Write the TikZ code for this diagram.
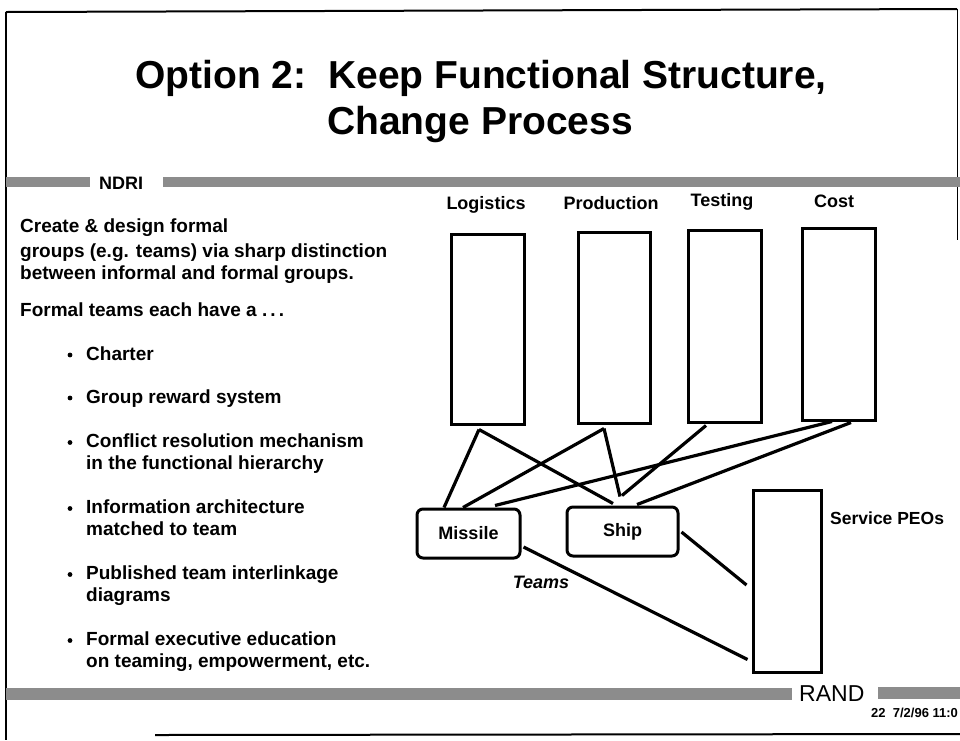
\documentclass[tikz,border=0pt]{standalone}
\usepackage{fontspec}
\setmainfont{Liberation Sans}
\begin{document}
\begin{tikzpicture}[x=1pt,y=-1pt,
  body/.style={anchor=base west, inner sep=0, font=\fontsize{19}{22}\selectfont\bfseries},
  hdr/.style={inner sep=0, font=\fontsize{18}{20}\selectfont\bfseries},
  ttl/.style={anchor=base, inner sep=0, font=\fontsize{39}{44}\selectfont\bfseries},
  fbox/.style={draw, line width=3pt, inner sep=0, minimum width=73},
  team/.style={draw, line width=3pt, rounded corners=6pt, inner sep=0, minimum height=49, font=\fontsize{18}{20}\selectfont\bfseries},
  link/.style={line width=3.2pt},
  band/.style={fill=black!45, draw=none},
  dot/.style={fill=black, draw=none}]
\useasboundingbox (0,0) rectangle (960,740);

% frame
\draw[line width=2pt] (6,12) -- (957,9);
\draw[line width=2pt] (6,12) -- (6,740);
\draw[line width=1pt] (957,9) -- (957,240);
\draw[line width=2pt] (155,735) -- (960,734);

% title
\node[ttl] (t1) at (481,88) {Option 2:\ \ Keep Functional Structure,};
\node[ttl] (t2) at (480,134) {Change Process};

% bands
\fill[band] (6,177) rectangle (90,187);
\fill[band] (163,177) rectangle (960,187);
\node[anchor=base west, inner sep=0, font=\fontsize{18}{20}\selectfont\bfseries] (ndri) at (99,189) {NDRI};
\fill[band] (6,688) rectangle (792,700);
\fill[band] (878,687) rectangle (960,699);
\node[anchor=base west, inner sep=0, font=\fontsize{23}{26}\selectfont] (rand) at (799,701) {RAND};
\node[anchor=base west, inner sep=0, font=\fontsize{13}{15}\selectfont\bfseries] (date) at (871,717) {22\ \ 7/2/96 11:0};

% left text
\node[body] (p1) at (20,232.5) {Create \& design formal};
\node[body] (p2) at (20,257.5) {groups (e.g. teams) via sharp distinction};
\node[body] (p3) at (20,279.5) {between informal and formal groups.};
\node[body] (p4) at (20,316) {Formal teams each have a .\,.\,.};
\node[body] (b1) at (86,360) {Charter};
\node[body] (b2) at (86,403) {Group reward system};
\node[body] (b3) at (86,447.5) {Conflict resolution mechanism};
\node[body] (b3b) at (86,469.5) {in the functional hierarchy};
\node[body] (b4) at (86,513.5) {Information architecture};
\node[body] (b4b) at (86,535.5) {matched to team};
\node[body] (b5) at (86,579.5) {Published team interlinkage};
\node[body] (b5b) at (86,601.5) {diagrams};
\node[body] (b6) at (86,645.5) {Formal executive education};
\node[body] (b6b) at (86,667.5) {on teaming, empowerment, etc.};
\foreach \yy in {355,398,442.5,508.5,574.5,640.5}
  \fill[dot] (70,\yy) circle (2.4);

% functional headers
\node[hdr] (hl) at (486,205) {Logistics};
\node[hdr] (hp) at (611,203) {Production};
\node[hdr] (ht) at (722,202) {Testing};
\node[hdr] (hc) at (834,201) {Cost};

% functional boxes
\node[fbox, minimum height=190] (log) at (487.5,329) {};
\node[fbox, minimum height=191, minimum width=72] (prod) at (614,327.5) {};
\node[fbox, minimum height=192] (test) at (724.5,326) {};
\node[fbox, minimum height=192] (cost) at (838.5,324) {};

% teams
\node[team, minimum width=103] (mis) at (468.5,533.5) {Missile};
\node[team, minimum width=111] (ship) at (622.5,531.5) {Ship};
\node[draw, line width=3pt, inner sep=0, minimum width=68, minimum height=182] (peo) at (787,581) {};
\node[anchor=west, inner sep=0, font=\fontsize{17.5}{20}\selectfont\bfseries] (peol) at (830,518) {Service PEOs};
\node[inner sep=0, font=\fontsize{18}{20}\selectfont\bfseries\itshape] (teams) at (541,582) {Teams};

% connectors
\draw[link] ([xshift=-8.5pt,yshift=-4pt]log.south) -- ([xshift=-24.5pt]mis.north);
\draw[link] ([xshift=-8.5pt,yshift=-4pt]log.south) -- ([xshift=-9.5pt,yshift=2pt]ship.north);
\draw[link] ([xshift=-10pt,yshift=-4pt]prod.south) -- ([xshift=-5.5pt]mis.north);
\draw[link] ([xshift=-10pt,yshift=-4pt]prod.south) -- ([xshift=-2.5pt,yshift=9pt]ship.north);
\draw[link] ([xshift=-18.5pt,yshift=-2pt]test.south) -- ([xshift=-0.5pt,yshift=10pt]ship.north);
\draw[link] ([xshift=-6.5pt]cost.south) -- ([xshift=26.5pt,yshift=2pt]mis.north);
\draw[link] ([xshift=12.5pt,yshift=-1pt]cost.south) -- ([xshift=14.5pt,yshift=1pt]ship.north);
\draw[link] ([xshift=2pt,yshift=-13.5pt]mis.east) -- ([xshift=-4pt,yshift=14pt]peo.south west);
\draw[link] ([xshift=2pt,yshift=-0.5pt]ship.east) -- ([xshift=-5pt,yshift=-4pt]peo.west);
\end{tikzpicture}
\end{document}
